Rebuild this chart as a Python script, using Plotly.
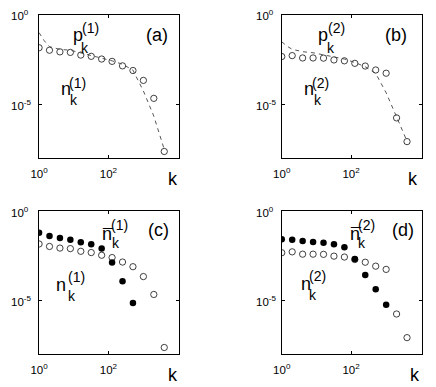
import plotly.graph_objects as go

W, H = 436, 387
FONT = "Liberation Sans, Arial, Helvetica, sans-serif"

# ---------------- data ----------------
k_bins = [1, 2, 4, 8, 16, 32, 64, 128, 256, 512, 1024, 2048, 4096]
log_n1 = [-1.84, -1.98, -2.07, -2.10, -2.25, -2.32, -2.47, -2.60, -2.85, -3.11, -3.66, -4.66, -7.62]
log_n2 = [-2.33, -2.28, -2.41, -2.41, -2.42, -2.52, -2.57, -2.71, -2.86, -3.08, -3.26, -5.75, -7.07]
k_nbar1 = [1, 2, 4, 8, 16, 32, 64, 128, 256, 512]
log_nbar1 = [-1.21, -1.40, -1.51, -1.60, -1.75, -1.86, -2.10, -2.88, -3.92, -5.13]
k_nbar2 = [1, 2, 4, 8, 16, 32, 64, 128, 256, 512, 1024]
log_nbar2 = [-1.58, -1.60, -1.67, -1.73, -1.77, -1.86, -2.03, -2.68, -3.57, -4.37, -5.23]
k_p = [1, 1.41, 2, 4, 8, 16, 32, 64, 128, 256, 512, 1024, 2048, 4096]
log_p1 = [-1.00, -1.45, -1.78, -1.93, -1.98, -2.12, -2.25, -2.40, -2.57, -2.76, -3.09, -4.25, -5.65, -7.50]
log_p2 = [-1.51, -1.75, -1.93, -2.06, -2.12, -2.25, -2.34, -2.47, -2.66, -2.90, -3.27, -4.35, -5.69, -7.05]

x_tickvals = [1, 100]
x_ticktext = ["10<sup>0</sup>", "10<sup>2</sup>"]
y_tickvals = [1, 1e-5]
y_ticktext = ["10<sup>0</sup>", "10<sup>-5</sup>"]


def tolin(v):
    return [10 ** a for a in v]


n1, n2 = tolin(log_n1), tolin(log_n2)
nbar1, nbar2 = tolin(log_nbar1), tolin(log_nbar2)
p1, p2 = tolin(log_p1), tolin(log_p2)

# ---------------- layout geometry (pixels) ----------------
cols = [(30.7, 173.3), (278.5, 421.2)]
rows = [(14.7, 158.3), (211.0, 354.3)]


def xd(c):
    return [c[0] / W, c[1] / W]


def yd(r):
    return [1 - r[1] / H, 1 - r[0] / H]


fig = go.Figure()

open_marker = dict(symbol="circle-open", size=6.3, color="#111", line=dict(width=0.8, color="#111"))
fill_marker = dict(symbol="circle", size=6.5, color="black", line=dict(width=0))
dash_line = dict(color="#444", width=0.9, dash="4px,4px")

# (a)
fig.add_trace(go.Scatter(x=k_bins, y=n1, mode="markers", marker=open_marker, xaxis="x", yaxis="y"))
fig.add_trace(go.Scatter(x=k_p, y=p1, mode="lines", line=dash_line, xaxis="x", yaxis="y"))
# (b)
fig.add_trace(go.Scatter(x=k_bins, y=n2, mode="markers", marker=open_marker, xaxis="x2", yaxis="y2"))
fig.add_trace(go.Scatter(x=k_p, y=p2, mode="lines", line=dash_line, xaxis="x2", yaxis="y2"))
# (c)
fig.add_trace(go.Scatter(x=k_bins, y=n1, mode="markers", marker=open_marker, xaxis="x3", yaxis="y3"))
fig.add_trace(go.Scatter(x=k_nbar1, y=nbar1, mode="markers", marker=fill_marker, xaxis="x3", yaxis="y3"))
# (d)
fig.add_trace(go.Scatter(x=k_bins, y=n2, mode="markers", marker=open_marker, xaxis="x4", yaxis="y4"))
fig.add_trace(go.Scatter(x=k_nbar2, y=nbar2, mode="markers", marker=fill_marker, xaxis="x4", yaxis="y4"))


def xaxis(c, anchor):
    return dict(type="log", range=[0, 4.03], domain=xd(c), anchor=anchor,
                showline=True, linecolor="black", linewidth=1, mirror="ticks",
                ticks="inside", ticklen=3, tickwidth=1, tickcolor="black",
                tickvals=x_tickvals, ticktext=x_ticktext,
                tickfont=dict(family=FONT, size=11.5, color="black"),
                ticklabelstandoff=5,
                showgrid=False, zeroline=False, fixedrange=True)


def yaxis(r, anchor):
    return dict(type="log", range=[-8, 0], domain=yd(r), anchor=anchor,
                showline=True, linecolor="black", linewidth=1, mirror="ticks",
                ticks="inside", ticklen=3, tickwidth=1, tickcolor="black",
                tickvals=y_tickvals, showticklabels=False,
                showgrid=False, zeroline=False, fixedrange=True)


annotations = []


def txt(text, left, baseline, size):
    ymid = baseline - 0.35 * size
    annotations.append(dict(text=text, x=left / W, y=1 - ymid / H, xref="paper", yref="paper",
                            xanchor="left", yanchor="middle", showarrow=False, borderpad=0,
                            font=dict(family=FONT, size=size, color="black")))


# y tick labels (the "10" is left-aligned like the original)
for left in (1.0, 250.8):
    for (top, bot) in rows:
        y5 = top + (bot - top) * 5 / 8
        for yy, t in ((top, y_ticktext[0]), (y5, y_ticktext[1])):
            annotations.append(dict(text=t, x=left / W, y=1 - (yy + 0.7) / H, xref="paper", yref="paper",
                                    xanchor="left", yanchor="middle", showarrow=False, borderpad=0,
                                    font=dict(family=FONT, size=11.5, color="black")))

BIG, SMALL = 18, 14
# (a)
txt("p", 64.3, 41.3, BIG); txt("k", 72.5, 53, SMALL); txt("(1)", 73.3, 33, SMALL)
txt("n", 52.0, 95, BIG); txt("k", 61.5, 105, SMALL); txt("(1)", 60.3, 87.5, SMALL)
txt("(a)", 139.0, 41.3, BIG); txt("k", 161.0, 185, BIG)
# (b)
txt("p", 314.7, 41.5, BIG); txt("k", 323.5, 53, SMALL); txt("(2)", 325.0, 33, SMALL)
txt("n", 299.7, 95, BIG); txt("k", 310.2, 105, SMALL); txt("(2)", 308.3, 87.5, SMALL)
txt("(b)", 383.0, 41.3, BIG); txt("k", 406.3, 185, BIG)
# (c)
txt("n", 94.3, 240.7, BIG); txt("\u00af", 94.3, 242.0, BIG)
txt("k", 103.8, 248.3, SMALL); txt("(1)", 103.6, 229.5, SMALL)
txt("n", 47.0, 291.7, BIG); txt("k", 59.5, 301, SMALL); txt("(1)", 59.3, 282, SMALL)
txt("(c)", 140.7, 236.5, BIG); txt("k", 161.0, 381, BIG)
# (d)
txt("n", 347.0, 240.3, BIG); txt("\u00af", 347.0, 241.6, BIG)
txt("k", 355.8, 248, SMALL); txt("(2)", 355.6, 230, SMALL)
txt("n", 297.0, 290, BIG); txt("k", 305.8, 300, SMALL); txt("(2)", 305.6, 280.5, SMALL)
txt("(d)", 390.3, 236.5, BIG); txt("k", 408.7, 381.5, BIG)

fig.update_layout(
    width=W, height=H, margin=dict(l=0, r=0, t=0, b=0),
    paper_bgcolor="white", plot_bgcolor="white", showlegend=False,
    xaxis=xaxis(cols[0], "y"), yaxis=yaxis(rows[0], "x"),
    xaxis2=xaxis(cols[1], "y2"), yaxis2=yaxis(rows[0], "x2"),
    xaxis3=xaxis(cols[0], "y3"), yaxis3=yaxis(rows[1], "x3"),
    xaxis4=xaxis(cols[1], "y4"), yaxis4=yaxis(rows[1], "x4"),
    annotations=annotations,
)

fig.write_html("out.html", config={"displayModeBar": False},
               post_script="document.body.style.margin='0';document.body.style.overflow='hidden';")
